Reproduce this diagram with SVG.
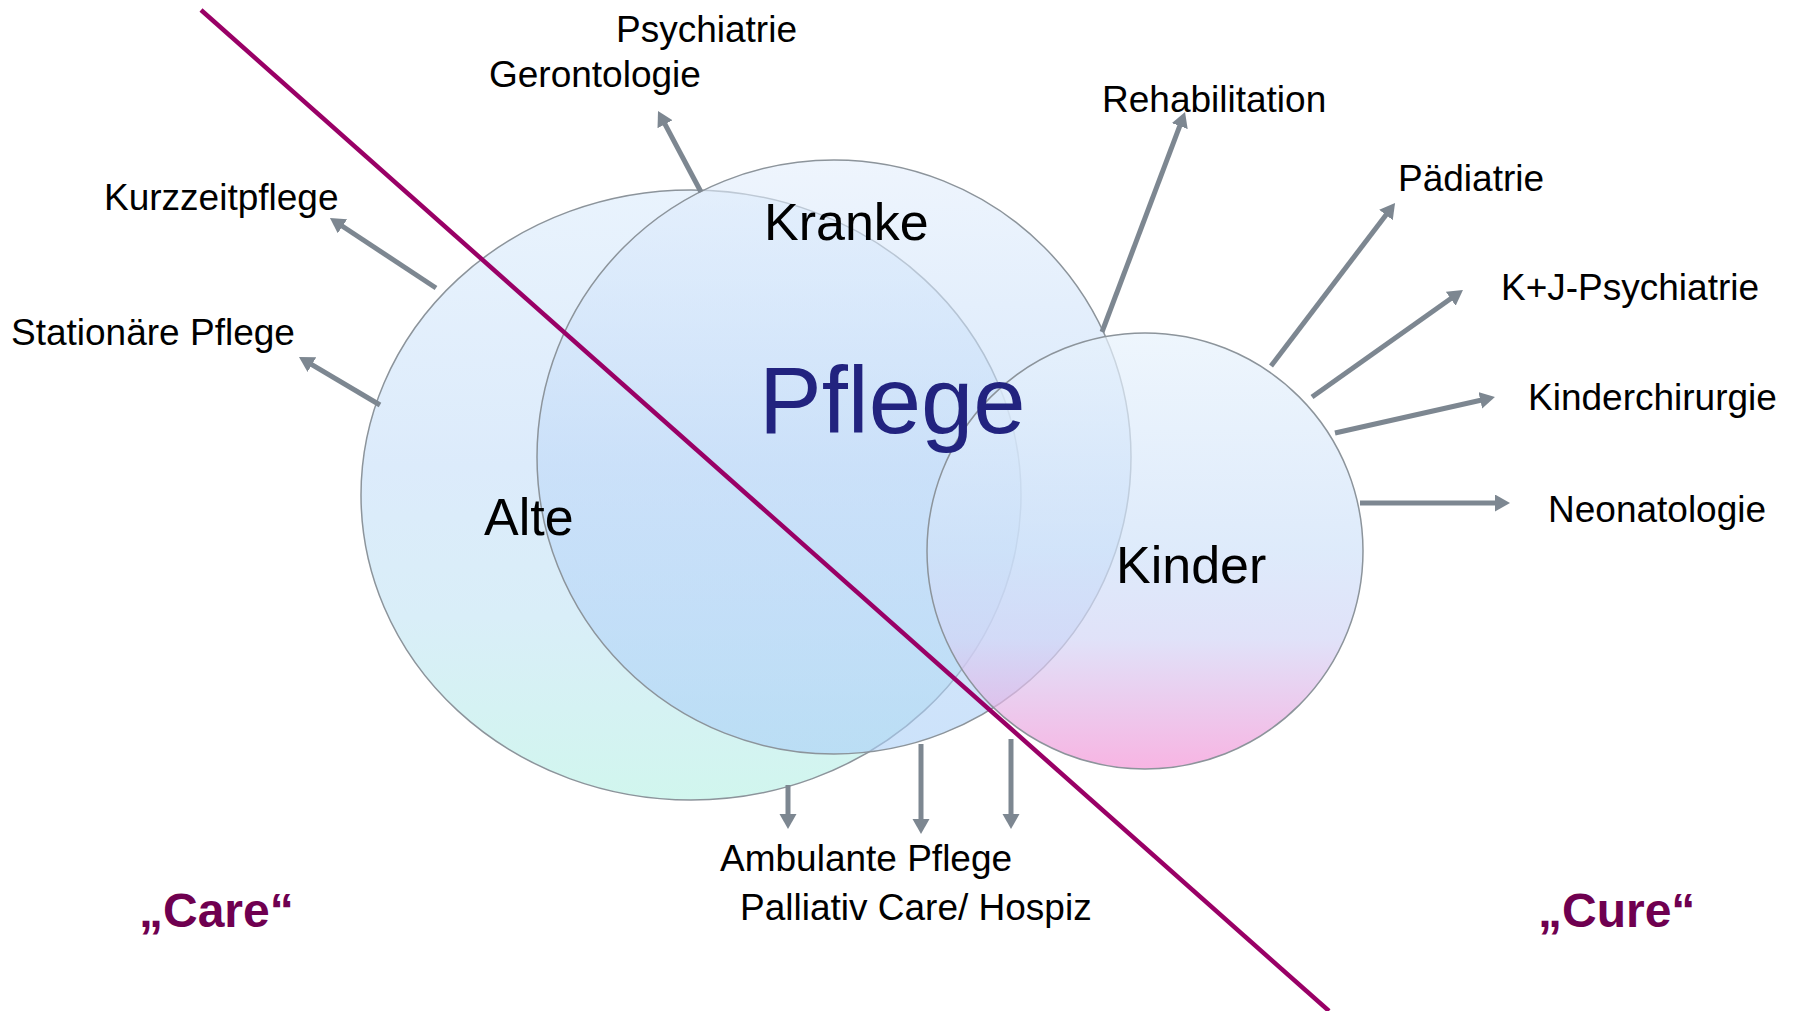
<svg xmlns="http://www.w3.org/2000/svg" width="1793" height="1011" viewBox="0 0 1793 1011">
<style>
.lbl{font-family:"Liberation Sans",Arial,sans-serif;font-size:37px;fill:#000}
.big{font-family:"Liberation Sans",Arial,sans-serif;font-size:52px;fill:#000}
.cc{font-family:"Liberation Sans",Arial,sans-serif;font-size:48px;font-weight:bold;fill:#6f0050}
.circ{stroke:#8c949b;stroke-width:1.5}
.arr{stroke:#7d8791;stroke-width:5;fill:none;marker-end:url(#ah)}
</style>
<defs>
<linearGradient id="gAlte" gradientUnits="userSpaceOnUse" x1="0" y1="190" x2="0" y2="800">
<stop offset="0" stop-color="#e9f3fd"/>
<stop offset="0.45" stop-color="#dcebfb"/>
<stop offset="0.7" stop-color="#d9eef8"/>
<stop offset="1" stop-color="#d1f6ee"/>
</linearGradient>
<linearGradient id="gKranke" gradientUnits="userSpaceOnUse" x1="0" y1="160" x2="0" y2="754">
<stop offset="0" stop-color="#e3eefc"/>
<stop offset="0.5" stop-color="#c0daf8"/>
<stop offset="1" stop-color="#aacff7"/>
</linearGradient>
<linearGradient id="gKinder" gradientUnits="userSpaceOnUse" x1="0" y1="333" x2="0" y2="769">
<stop offset="0" stop-color="#e7f2fc"/>
<stop offset="0.5" stop-color="#d0e2f9"/>
<stop offset="0.7" stop-color="#d3d6f6"/>
<stop offset="1" stop-color="#f495d7"/>
</linearGradient>
<marker id="ah" markerUnits="userSpaceOnUse" markerWidth="16" markerHeight="18" refX="5" refY="8.5" orient="auto">
<path d="M0,0 L15,8.5 L0,17 z" fill="#7d8791"/>
</marker>
</defs>
<rect width="1793" height="1011" fill="#fff"/>

<g id="alte">
<ellipse class="circ" cx="691" cy="495" rx="330" ry="305" fill="url(#gAlte)"/>
</g>
<g id="kranke">
<circle class="circ" cx="834" cy="457" r="297" fill="url(#gKranke)" fill-opacity="0.6"/>
</g>
<g id="kinder">
<circle class="circ" cx="1145" cy="551" r="218" fill="url(#gKinder)" fill-opacity="0.7"/>
</g>

<g id="circle-labels">
<text class="big" x="764" y="240">Kranke</text>
<text class="big" x="484" y="535">Alte</text>
<text class="big" x="1116" y="583">Kinder</text>
<text x="759" y="433" font-family="Liberation Sans, Arial, sans-serif" font-size="94" fill="#22237f">Pflege</text>
</g>

<g id="connectors">
<line class="arr" x1="701" y1="192" x2="662.7" y2="119.8"/>
<line class="arr" x1="436" y1="288" x2="338.3" y2="223.5"/>
<line class="arr" x1="380" y1="405" x2="307.6" y2="362.1"/>
<line class="arr" x1="1102" y1="332" x2="1181.5" y2="121.4"/>
<line class="arr" x1="1271" y1="366" x2="1389" y2="211"/>
<line class="arr" x1="1312" y1="397" x2="1454.8" y2="295.8"/>
<line class="arr" x1="1335" y1="433" x2="1485.2" y2="399.2"/>
<line class="arr" x1="1360" y1="503" x2="1500" y2="503"/>
<line class="arr" x1="788" y1="785" x2="788" y2="819"/>
<line class="arr" x1="921" y1="744" x2="921" y2="824"/>
<line class="arr" x1="1011" y1="739" x2="1011" y2="819"/>
</g>

<g id="divider">
<line x1="201" y1="10" x2="1329" y2="1011" stroke="#990066" stroke-width="4.5"/>
</g>

<g id="labels">
<text class="lbl" x="616" y="42">Psychiatrie</text>
<text class="lbl" x="489" y="87">Gerontologie</text>
<text class="lbl" x="104" y="210">Kurzzeitpflege</text>
<text class="lbl" x="11" y="345">Stationäre Pflege</text>
<text class="lbl" x="1102" y="112">Rehabilitation</text>
<text class="lbl" x="1398" y="191">Pädiatrie</text>
<text class="lbl" x="1501" y="300">K+J-Psychiatrie</text>
<text class="lbl" x="1528" y="410">Kinderchirurgie</text>
<text class="lbl" x="1548" y="522">Neonatologie</text>
<text class="lbl" x="720" y="871">Ambulante Pflege</text>
<text class="lbl" x="740" y="920">Palliativ Care/ Hospiz</text>
</g>

<g id="care-cure">
<text class="cc" x="139" y="927">„Care“</text>
<text class="cc" x="1538" y="927">„Cure“</text>
</g>
</svg>
